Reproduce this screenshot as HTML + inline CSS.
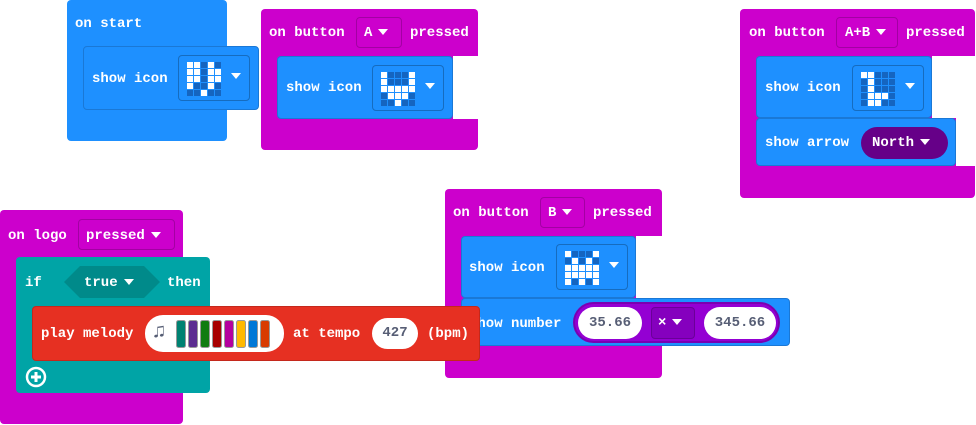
<!DOCTYPE html>
<html><head><style>
body{margin:0;width:976px;height:425px;background:#fff;position:relative;overflow:hidden;font-family:"Liberation Mono",monospace;font-weight:bold;font-size:14px;color:#fff}
.b{position:absolute}
.m{background:#cc00cc}
.bl{background:#1e90ff}
.t{position:absolute;white-space:pre;line-height:16px}
.dd{position:absolute;border:1px solid rgba(0,0,0,.2);border-radius:4px;box-sizing:border-box}
.pill{position:absolute;background:#fff;border-radius:18px;color:#575e75;text-align:center;box-sizing:border-box}
.tri{display:inline-block;width:0;height:0;border-left:5px solid transparent;border-right:5px solid transparent;border-top:6px solid #fff;vertical-align:middle;margin-left:6px}
.ic{position:absolute;border:1px solid rgba(0,0,0,.25);border-radius:4px;box-sizing:border-box;background:#1e90ff}
</style></head><body>

<!-- on start -->
<div class="b bl" style="left:67px;top:0;width:160px;height:141px;border-radius:4px"></div>
<div class="t" style="left:75px;top:16px">on start</div>
<div class="b bl" style="left:83px;top:46px;width:176px;height:64px;border:1px solid #1a78d6;box-sizing:border-box;border-radius:4px"></div>
<div class="t" style="left:92px;top:71px">show icon</div>
<div class="ic" style="left:178px;top:55px;width:72px;height:46px"><svg class="g" data-p="1101011011110111001000100" width="40" height="40" style="position:absolute;left:8px;top:6px"></svg><span class="tri" style="position:absolute;left:46px;top:17px"></span></div>

<!-- on button A -->
<div class="b m" style="left:261px;top:9px;width:217px;height:141px;border-radius:4px"></div>
<div class="b" style="left:478px;top:56px;width:0;height:0"></div>
<div class="b" style="left:453px;top:56px;width:25px;height:63px;background:#fff"></div>
<div class="t" style="left:269px;top:25px">on button</div>
<div class="dd" style="left:356px;top:17px;width:46px;height:31px"></div>
<div class="t" style="left:364px;top:25px">A<span class="tri"></span></div>
<div class="t" style="left:410px;top:25px">pressed</div>
<div class="b bl" style="left:277px;top:56px;width:176px;height:63px;border:1px solid #1a78d6;box-sizing:border-box;border-radius:4px"></div>
<div class="t" style="left:286px;top:80px">show icon</div>
<div class="ic" style="left:372px;top:65px;width:72px;height:46px"><svg class="g" data-p="1000110001111110111000100" width="40" height="40" style="position:absolute;left:8px;top:6px"></svg><span class="tri" style="position:absolute;left:46px;top:17px"></span></div>

<!-- on button A+B -->
<div class="b m" style="left:740px;top:9px;width:235px;height:189px;border-radius:4px"></div>
<div class="b" style="left:956px;top:56px;width:20px;height:110px;background:#fff"></div>
<div class="b" style="left:932px;top:56px;width:30px;height:62px;background:#fff"></div>
<div class="t" style="left:749px;top:25px">on button</div>
<div class="dd" style="left:836px;top:17px;width:62px;height:31px"></div>
<div class="t" style="left:845px;top:25px">A+B<span class="tri"></span></div>
<div class="t" style="left:906px;top:25px">pressed</div>
<div class="b bl" style="left:756px;top:56px;width:176px;height:62px;border:1px solid #1a78d6;box-sizing:border-box;border-radius:4px"></div>
<div class="t" style="left:765px;top:80px">show icon</div>
<div class="ic" style="left:852px;top:65px;width:72px;height:46px"><svg class="g" data-p="1100001000010000111001100" width="40" height="40" style="position:absolute;left:8px;top:6px"></svg><span class="tri" style="position:absolute;left:46px;top:17px"></span></div>
<div class="b bl" style="left:756px;top:118px;width:200px;height:48px;border:1px solid #1a78d6;box-sizing:border-box;border-radius:4px"></div>
<div class="t" style="left:765px;top:135px">show arrow</div>
<div class="b" style="left:861px;top:127px;width:87px;height:32px;background:#660088;border-radius:16px"></div>
<div class="t" style="left:872px;top:135px">North<span class="tri"></span></div>

<!-- on logo -->
<div class="b m" style="left:0;top:210px;width:183px;height:214px;border-radius:4px"></div>
<div class="t" style="left:8px;top:228px">on logo</div>
<div class="dd" style="left:78px;top:219px;width:97px;height:31px"></div>
<div class="t" style="left:86px;top:228px">pressed<span class="tri"></span></div>
<div class="b" style="left:16px;top:257px;width:194px;height:136px;background:#00a4a6;border-radius:4px"></div>
<div class="t" style="left:25px;top:275px">if</div>
<svg class="b" style="left:64px;top:266px" width="96" height="33"><polygon points="16,0 80,0 96,16 80,32 16,32 0,16" fill="#008a8a"/></svg>
<div class="t" style="left:84px;top:275px">true<span class="tri"></span></div>
<div class="t" style="left:167px;top:275px">then</div>
<svg class="b" style="left:25px;top:366px" width="22" height="22"><circle cx="11" cy="11" r="9" fill="none" stroke="#fff" stroke-width="2.5"/><path d="M11 6v10M6 11h10" stroke="#fff" stroke-width="3"/></svg>

<!-- on button B -->
<div class="b m" style="left:445px;top:189px;width:217px;height:189px;border-radius:4px"></div>
<div class="b" style="left:636px;top:236px;width:26px;height:62px;background:#fff"></div>
<div class="t" style="left:453px;top:205px">on button</div>
<div class="dd" style="left:540px;top:197px;width:45px;height:31px"></div>
<div class="t" style="left:548px;top:205px">B<span class="tri"></span></div>
<div class="t" style="left:593px;top:205px">pressed</div>
<div class="b bl" style="left:461px;top:236px;width:175px;height:62px;border:1px solid #1a78d6;box-sizing:border-box;border-radius:4px"></div>
<div class="t" style="left:469px;top:260px">show icon</div>
<div class="ic" style="left:556px;top:244px;width:72px;height:46px"><svg class="g" data-p="1000101010111111111110101" width="40" height="40" style="position:absolute;left:8px;top:6px"></svg><span class="tri" style="position:absolute;left:46px;top:17px"></span></div>
<div class="b bl" style="left:461px;top:298px;width:329px;height:48px;border:1px solid #1a78d6;box-sizing:border-box;border-radius:4px"></div>
<div class="t" style="left:469px;top:316px">show number</div>
<div class="b" style="left:573px;top:302px;width:207px;height:41px;background:#9400d3;border:2px solid #7a00b0;box-sizing:border-box;border-radius:21px"></div>
<div class="pill" style="left:578px;top:307px;width:64px;height:32px;line-height:32px">35.66</div>
<div class="dd" style="left:651px;top:307px;width:44px;height:32px;background:#8500be"></div>
<div class="t" style="left:658px;top:315px">×<span class="tri"></span></div>
<div class="pill" style="left:704px;top:307px;width:72px;height:32px;line-height:32px">345.66</div>

<!-- play melody -->
<div class="b" style="left:32px;top:306px;width:448px;height:55px;background:#e63022;border:1px solid #c4281c;box-sizing:border-box;border-radius:4px"></div>
<div class="t" style="left:41px;top:326px">play melody</div>
<div class="pill" style="left:145px;top:315px;width:139px;height:37px"></div>
<div class="t" style="left:153px;top:321px;color:#575e75;font-size:20px;line-height:24px">♫</div>
<svg class="b" style="left:176px;top:320px" width="96" height="28"><g stroke="#999" stroke-width="1">
<rect x="0.5" y="0.5" width="9" height="27" rx="2" fill="#008272"/><rect x="12.5" y="0.5" width="9" height="27" rx="2" fill="#5c2d91"/><rect x="24.5" y="0.5" width="9" height="27" rx="2" fill="#107c10"/><rect x="36.5" y="0.5" width="9" height="27" rx="2" fill="#a80000"/><rect x="48.5" y="0.5" width="9" height="27" rx="2" fill="#b4009e"/><rect x="60.5" y="0.5" width="9" height="27" rx="2" fill="#ffb900"/><rect x="72.5" y="0.5" width="9" height="27" rx="2" fill="#0078d7"/><rect x="84.5" y="0.5" width="9" height="27" rx="2" fill="#d83b01"/></g></svg>
<div class="t" style="left:293px;top:326px">at tempo</div>
<div class="pill" style="left:372px;top:318px;width:46px;height:31px;line-height:31px">427</div>
<div class="t" style="left:427px;top:326px">(bpm)</div>

<script>
document.querySelectorAll('svg.g').forEach(s=>{var p=s.getAttribute('data-p'),h='';for(var i=0;i<25;i++){var r=Math.floor(i/5),c=i%5;h+='<rect x="'+(c*7)+'" y="'+(r*7)+'" width="6" height="6" fill="'+(p[i]=='1'?'#fff':'#1565c0')+'"/>';}s.innerHTML=h;});
</script>
</body></html>
